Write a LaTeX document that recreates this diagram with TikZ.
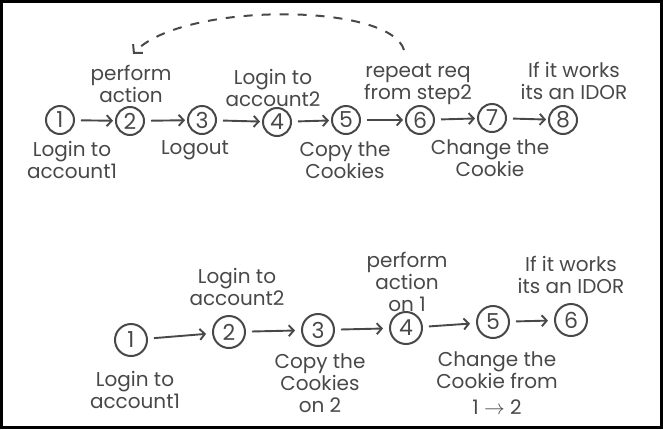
\documentclass[tikz,border=0pt]{standalone}
\usepackage{fontspec}
\setmainfont{Poppins}
\definecolor{Ink}{RGB}{72,72,72}
\usetikzlibrary{arrows.meta}

\begin{document}
\begin{tikzpicture}[
      x=1pt, y=-1pt,
      every node/.style={font=\fontsize{20}{22}\selectfont, align=center, text=Ink},
      num/.style      ={draw=Ink, circle, line width=2pt, inner sep=0pt, minimum size=28pt,
                        font=\fontsize{22}{22}\selectfont},
      numbig/.style   ={num, minimum size=32pt},
      lbl/.style      ={inner sep=0pt},
      flow/.style     ={-{Straight Barb[length=5pt,width=11pt]}, line width=1.9pt, draw=Ink,
                        shorten <=6pt, shorten >=2pt},
      loop/.style     ={-{Straight Barb[length=6pt,width=13pt]}, line width=2pt, draw=Ink,
                        dash pattern=on 9pt off 9pt},
  ]
  \useasboundingbox (0,0) rectangle (663,429);
  \draw[line width=3pt, black] (1.5,1.5) rectangle (661.5,427.5);

  % ─ Top row: steps ─
  \node[num] (t1) at (60,120)  {1};
  \node[num] (t2) at (130,121) {2};
  \node[num] (t3) at (202,120) {3};
  \node[num] (t4) at (277,122) {4};
  \node[num] (t5) at (346,120) {5};
  \node[num] (t6) at (420,120) {6};
  \node[num] (t7) at (492,118) {7};
  \node[num] (t8) at (563,120) {8};

  % ─ Top row: labels ─
  \node[lbl] (tl2) at (131,84)  {perform\\action};
  \node[lbl] (tl4) at (273,88)  {Login to\\account2};
  \node[lbl] (tl6) at (418,84)  {repeat req\\from step2};
  \node[lbl] (tl8) at (574,81)  {If it works\\its an IDOR};
  \node[lbl] (tl1) at (72,160)  {Login to\\account1};
  \node[lbl] (tl3) at (195,150) {Logout};
  \node[lbl] (tl5) at (345,160) {Copy the\\Cookies};
  \node[lbl] (tl7) at (490,158) {Change the\\Cookie};

  % ─ Top row: arrows ─
  \foreach \a/\b in {t1/t2, t2/t3, t3/t4, t4/t5, t5/t6, t6/t7, t7/t8}
    \draw[flow] (\a) -- (\b);

  % ─ Repeat loop (step 6 back to step 2) ─
  \coordinate (loopfrom) at (404,50);
  \coordinate (loopto)   at (133,54);
  \draw[loop] (loopfrom) .. controls (390,2) and (180,2) .. (loopto);

  % ─ Bottom row: steps ─
  \node[numbig] (b1) at (131,340) {1};
  \node[numbig] (b2) at (229,332) {2};
  \node[numbig] (b3) at (318,330) {3};
  \node[numbig] (b4) at (406,328) {4};
  \node[numbig] (b5) at (493,322) {5};
  \node[numbig] (b6) at (571,320) {6};

  % ─ Bottom row: labels ─
  \node[lbl] (bl1) at (135,390) {Login to\\account1};
  \node[lbl] (bl2) at (237,287) {Login to\\account2};
  \node[lbl] (bl3) at (320,383) {Copy the\\Cookies\\on 2};
  \node[lbl] (bl4) at (407,282) {perform\\action\\on 1};
  \node[lbl] (bl5) at (497,383) {Change the\\Cookie from\\[4pt]1 $\to$ 2};
  \node[lbl] (bl6) at (571,275) {If it works\\its an IDOR};

  % ─ Bottom row: arrows ─
  \foreach \a/\b in {b1/b2, b2/b3, b3/b4, b4/b5, b5/b6}
    \draw[flow, shorten >=6pt] (\a) -- (\b);
\end{tikzpicture}
\end{document}
